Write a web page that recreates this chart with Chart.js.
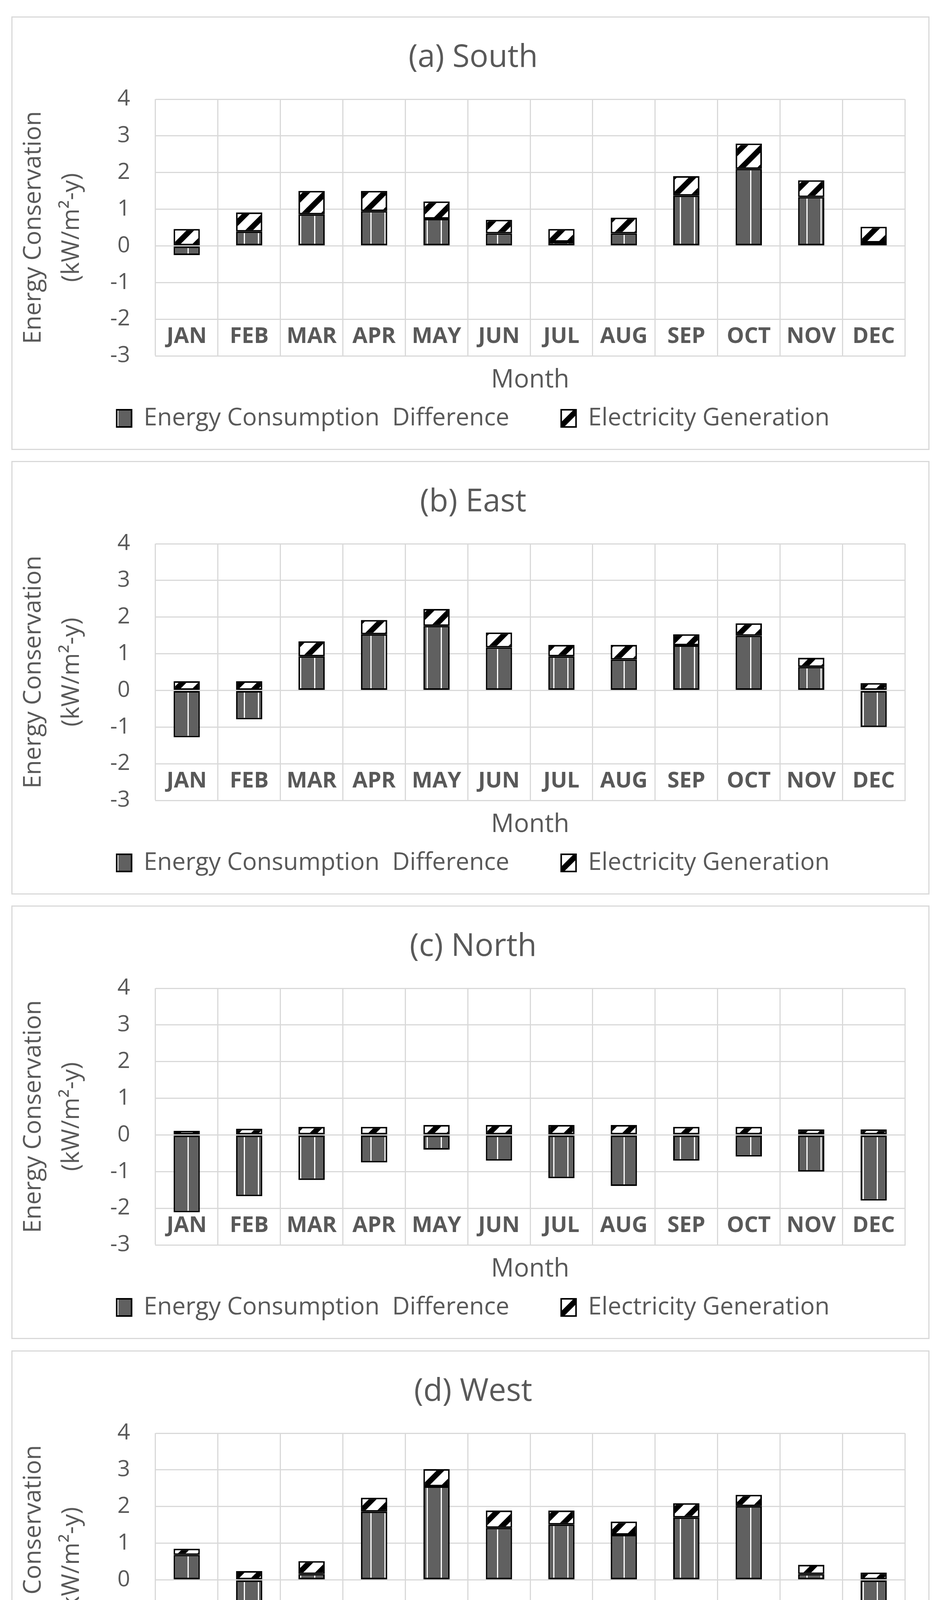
<!DOCTYPE html>
<html>
<head>
<meta charset="utf-8">
<title>Monthly energy conservation by orientation</title>
<script src="https://cdn.jsdelivr.net/npm/chart.js@4.4.1/dist/chart.umd.min.js"></script>
<style>
  html, body { margin: 0; padding: 0; background: #fff; }
  body { width: 2411px; height: 4599px; position: relative; }
  .panel { position: absolute; left: 29px; width: 2350px; height: 1110px;
           border: 3px solid #d9d9d9; box-sizing: border-box; background: #fff; }
  .panel canvas { display: block; }
</style>
</head>
<body>
<div class="panel" style="top:42px"><canvas id="chartSouth" width="2344" height="1104"></canvas></div>
<div class="panel" style="top:1180px"><canvas id="chartEast" width="2344" height="1104"></canvas></div>
<div class="panel" style="top:2318px"><canvas id="chartNorth" width="2344" height="1104"></canvas></div>
<div class="panel" style="top:3457px"><canvas id="chartWest" width="2344" height="1104"></canvas></div>
<script>
const months = ['JAN', 'FEB', 'MAR', 'APR', 'MAY', 'JUN', 'JUL', 'AUG', 'SEP', 'OCT', 'NOV', 'DEC'];
const yTicks = [-3, -2, -1, 0, 1, 2, 3, 4];

// (a) South
const southDiff = [-0.25, 0.39, 0.86, 0.95, 0.74, 0.34, 0.11, 0.34, 1.37, 2.10, 1.33, 0.09];
const southGen  = [0.46, 0.52, 0.64, 0.55, 0.47, 0.37, 0.35, 0.43, 0.53, 0.69, 0.46, 0.43];

// (b) East
const eastDiff = [-1.28, -0.79, 0.93, 1.53, 1.76, 1.17, 0.93, 0.84, 1.23, 1.49, 0.64, -1.00];
const eastGen  = [0.25, 0.25, 0.41, 0.39, 0.46, 0.41, 0.31, 0.40, 0.30, 0.34, 0.25, 0.20];

// (c) North
const northDiff = [-2.11, -1.67, -1.23, -0.75, -0.40, -0.70, -1.18, -1.39, -0.70, -0.59, -1.00, -1.79];
const northGen  = [0.11, 0.17, 0.22, 0.22, 0.27, 0.27, 0.27, 0.27, 0.22, 0.22, 0.15, 0.15];

// (d) West
const westDiff = [0.68, -0.99, 0.16, 1.86, 2.55, 1.42, 1.51, 1.23, 1.70, 2.01, 0.16, -1.20];
const westGen  = [0.17, 0.24, 0.35, 0.38, 0.47, 0.47, 0.38, 0.36, 0.39, 0.31, 0.25, 0.20];

const panels = [
    { id: 'chartSouth', title: '(a) South', diff: southDiff, gen: southGen },
    { id: 'chartEast',  title: '(b) East',  diff: eastDiff,  gen: eastGen },
    { id: 'chartNorth', title: '(c) North', diff: northDiff, gen: northGen },
    { id: 'chartWest',  title: '(d) West',  diff: westDiff,  gen: westGen }
];

const textColor = '#595959';
const gridColor = '#d9d9d9';

Chart.defaults.font.family = "'Open Sans', sans-serif";

// dark grey fill with thin white vertical lines
function stripePattern(ctx) {
    const tile = document.createElement('canvas');
    tile.width = 36;
    tile.height = 10;
    const t = tile.getContext('2d');
    t.fillStyle = '#606060';
    t.fillRect(0, 0, 36, 10);
    t.fillStyle = '#ffffff';
    t.fillRect(16, 0, 3, 10);
    return ctx.createPattern(tile, 'repeat');
}

// white fill with thick black "/" diagonals
function hatchPattern(ctx) {
    const s = 50;
    const tile = document.createElement('canvas');
    tile.width = s;
    tile.height = s;
    const t = tile.getContext('2d');
    t.fillStyle = '#ffffff';
    t.fillRect(0, 0, s, s);
    t.strokeStyle = '#000000';
    t.lineWidth = 14;
    t.beginPath();
    t.moveTo(0, s); t.lineTo(s, 0);
    t.moveTo(-s / 4, s / 4); t.lineTo(s / 4, -s / 4);
    t.moveTo(3 * s / 4, 5 * s / 4); t.lineTo(5 * s / 4, 3 * s / 4);
    t.stroke();
    return ctx.createPattern(tile, 'repeat');
}

function makeChart(panel) {
    const canvas = document.getElementById(panel.id);
    const ctx = canvas.getContext('2d');

    return new Chart(ctx, {
        type: 'bar',
        data: {
            labels: months,
            datasets: [
                {
                    label: 'Energy Consumption  Difference',
                    data: panel.diff,
                    backgroundColor: stripePattern(ctx),
                    borderColor: '#000000',
                    borderWidth: 4,
                    borderSkipped: false,
                    barPercentage: 0.42,
                    categoryPercentage: 1
                },
                {
                    label: 'Electricity Generation',
                    data: panel.gen,
                    backgroundColor: hatchPattern(ctx),
                    borderColor: '#000000',
                    borderWidth: 4,
                    borderSkipped: false,
                    barPercentage: 0.42,
                    categoryPercentage: 1
                }
            ]
        },
        options: {
            responsive: false,
            animation: false,
            devicePixelRatio: 1,
            layout: { padding: { left: 74, right: 60, top: 0, bottom: 37 } },
            plugins: {
                title: {
                    display: true,
                    text: panel.title,
                    color: textColor,
                    font: { size: 80, weight: 'normal' },
                    padding: { top: 55, bottom: 58 }
                },
                legend: {
                    position: 'bottom',
                    labels: {
                        color: textColor,
                        font: { size: 62 },
                        boxWidth: 38,
                        boxHeight: 44,
                        padding: 20,
                        generateLabels: function(chart) {
                            const items = Chart.defaults.plugins.legend.labels.generateLabels(chart);
                            // gap between the two legend entries
                            items[0].text += '       ';
                            return items;
                        }
                    }
                },
                tooltip: { enabled: false }
            },
            scales: {
                x: {
                    stacked: true,
                    grid: { color: gridColor, lineWidth: 3, drawTicks: false, offset: true },
                    border: { color: gridColor, width: 3 },
                    ticks: {
                        color: textColor,
                        font: { size: 56, weight: 'bold' },
                        // labels sit inside the plot, in the band between -2 and -3
                        mirror: true,
                        padding: 15,
                        autoSkip: false,
                        maxRotation: 0
                    },
                    title: {
                        display: true,
                        text: 'Month',
                        color: textColor,
                        font: { size: 65 },
                        padding: { top: 0, bottom: 8 }
                    },
                    afterFit: function(scale) {
                        scale.height = 109;
                    }
                },
                y: {
                    stacked: true,
                    min: yTicks[0],
                    max: yTicks[yTicks.length - 1],
                    ticks: { stepSize: 1, color: textColor, font: { size: 57 }, padding: 65 },
                    grid: { color: gridColor, lineWidth: 3, drawTicks: false },
                    border: { display: false },
                    title: {
                        display: true,
                        text: ['Energy Conservation', '(kW/m\u00b2-y)'],
                        color: textColor,
                        font: { size: 62, lineHeight: 1.58 },
                        padding: { top: -69, bottom: 0 }
                    },
                    afterFit: function(scale) {
                        scale.width = 292;
                    }
                }
            }
        }
    });
}

panels.forEach(makeChart);
</script>
</body>
</html>
